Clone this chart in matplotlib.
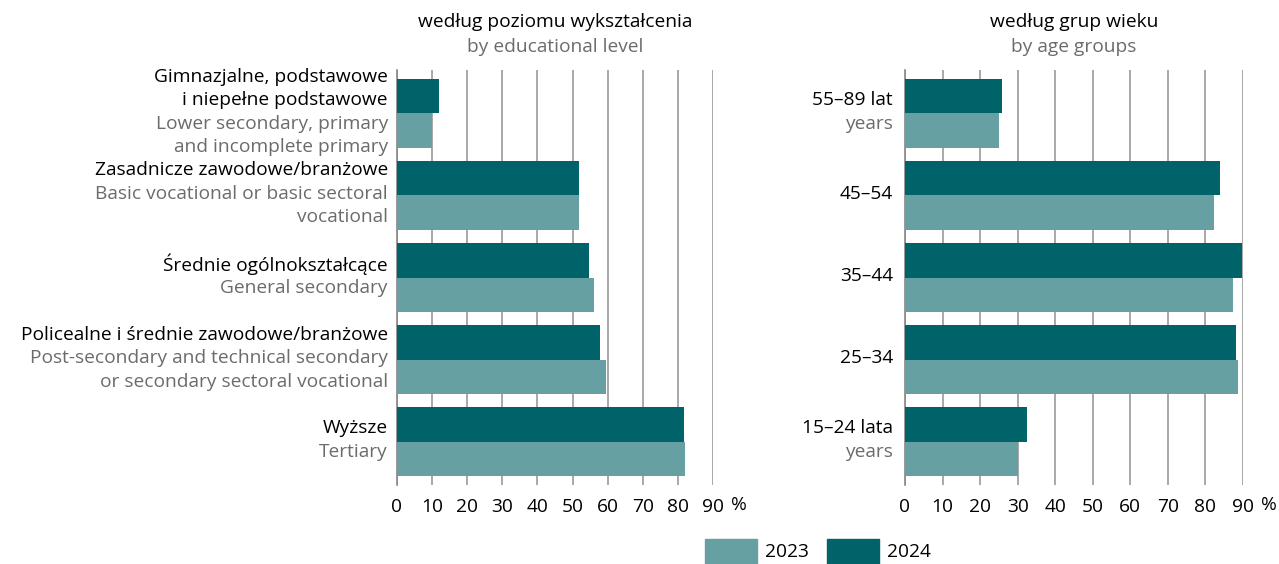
import matplotlib.pyplot as plt
from matplotlib.patches import Rectangle

plt.rcParams['font.family'] = ['Open Sans', 'DejaVu Sans']

# data (percent)
edu_pl = [["Gimnazjalne, podstawowe", "i niepełne podstawowe"], ["Zasadnicze zawodowe/branżowe"],
          ["Średnie ogólnokształcące"], ["Policealne i średnie zawodowe/branżowe"], ["Wyższe"]]
edu_en = [["Lower secondary, primary", "and incomplete primary"], ["Basic vocational or basic sectoral", "vocational"],
          ["General secondary"], ["Post-secondary and technical secondary", "or secondary sectoral vocational"],
          ["Tertiary"]]
edu_2023 = [10.1, 51.7, 56.1, 59.6, 82.0]
edu_2024 = [12.0, 51.9, 54.8, 57.9, 81.7]

age_pl = [["55–89 lat"], ["45–54"], ["35–44"], ["25–34"], ["15–24 lata"]]
age_en = [["years"], [], [], [], ["years"]]
age_2023 = [25.1, 82.4, 87.3, 88.8, 30.0]
age_2024 = [25.7, 83.8, 89.7, 88.2, 32.5]

ticks = [0, 10, 20, 30, 40, 50, 60, 70, 80, 90]

C23 = "#66a0a3"
C24 = "#00636a"
GREY = "#6b6b6b"
FS = 13.8
PX = 72 / 100  # points per pixel

fig = plt.figure(figsize=(12.79, 5.64), dpi=100)
ax1 = fig.add_axes([397 / 1279, 1 - 485 / 564, 316 / 1279, 415 / 564])
ax2 = fig.add_axes([905 / 1279, 1 - 485 / 564, 338 / 1279, 415 / 564])


def draw(ax, pl, en, v23, v24, title_pl, title_en, gap):
    h = 0.415
    for i in range(len(pl)):
        ax.barh(i - h / 2, v24[i], height=h, color=C24, zorder=3)
        ax.barh(i + h / 2, v23[i], height=h, color=C23, zorder=3)
    ax.set_ylim(len(pl) - 0.47, -0.53)
    ax.set_xlim(0, 90)
    ax.set_xticks(ticks)
    ax.set_xticklabels([str(t) for t in ticks], fontsize=FS)
    ax.tick_params(axis='x', length=0, pad=9)
    ax.set_yticks([])
    ax.grid(axis='x', color="#999999", linewidth=1.2, zorder=0)
    for s in ['top', 'right', 'bottom']:
        ax.spines[s].set_visible(False)
    ax.spines['left'].set_color("#888888")
    ax.spines['left'].set_linewidth(1.2)
    ax.annotate("%", xy=(90, 0), xycoords=('data', 'axes fraction'),
                xytext=(13, -20 * PX), textcoords='offset points',
                ha='left', va='center', fontsize=FS)

    # bilingual category labels: Polish black, English grey, one line each
    lh = 23.5 * PX
    for i in range(len(pl)):
        lines = [(t, "black") for t in pl[i]] + [(t, GREY) for t in en[i]]
        n = len(lines)
        for k, (txt, col) in enumerate(lines):
            dy = ((n - 1) / 2 - k) * lh + 1.5 * PX
            ax.annotate(txt, xy=(0, i), xycoords='data', xytext=(-gap * PX, dy),
                        textcoords='offset points', ha='right', va='center',
                        fontsize=FS, color=col)

    ax.annotate(title_pl, xy=(0.5, 1), xycoords='axes fraction', xytext=(0, 48 * PX),
                textcoords='offset points', ha='center', va='center', fontsize=FS)
    ax.annotate(title_en, xy=(0.5, 1), xycoords='axes fraction', xytext=(0, 23 * PX),
                textcoords='offset points', ha='center', va='center', fontsize=FS, color=GREY)


draw(ax1, edu_pl, edu_en, edu_2023, edu_2024, "według poziomu wykształcenia", "by educational level", 9)
draw(ax2, age_pl, age_en, age_2023, age_2024, "według grup wieku", "by age groups", 12)

# legend drawn manually in pixel positions
for x0, col, lab in [(705, C23, "2023"), (827, C24, "2024")]:
    fig.patches.append(Rectangle((x0 / 1279, 0), 52 / 1279, 25 / 564, transform=fig.transFigure,
                                 color=col, figure=fig))
    fig.text((x0 + 60) / 1279, 1 - 552 / 564, lab, ha='left', va='center', fontsize=FS)

fig.savefig("out.png", dpi=100)
